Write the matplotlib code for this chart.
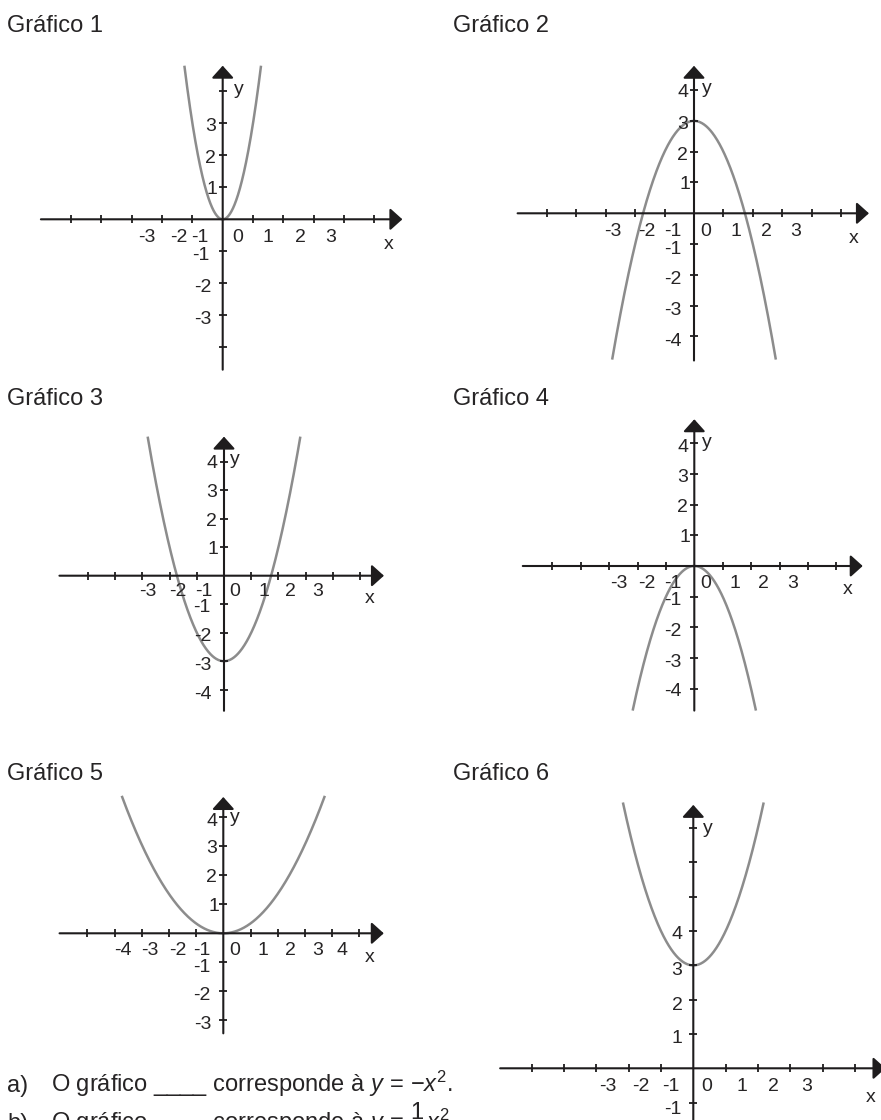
import numpy as np
import matplotlib
matplotlib.use('Agg')
import matplotlib.pyplot as plt
import matplotlib.transforms as mtransforms

plt.rcParams['font.family'] = ['Liberation Sans', 'DejaVu Sans']
plt.rcParams['mathtext.fontset'] = 'custom'
plt.rcParams['mathtext.rm'] = 'Liberation Sans'
plt.rcParams['mathtext.it'] = 'Liberation Sans:italic'

W, H = 881, 1120
AXIS = '#1e1c1d'
CURVE = '#8c8c8c'
TEXT = '#262425'

# parabolas y = a*x^2 + c, drawn up to the level where each curve stops
titles = ['Gráfico 1', 'Gráfico 2', 'Gráfico 3', 'Gráfico 4', 'Gráfico 5', 'Gráfico 6']
coef_a = [3, -1, 1, -1, 0.34, 1]
coef_c = [0, 3, -3, 0, 0, 3]
curve_end = [4.8, -4.75, 4.88, -4.71, 4.74, 7.75]

x_ticks = [[-5, -4, -3, -2, -1, 1, 2, 3, 4, 5]] * 6
y_ticks = [
    [-4, -3, -2, -1, 1, 2, 3, 4],
    [-4, -3, -2, -1, 1, 2, 3, 4],
    [-4, -3, -2, -1, 1, 2, 3, 4],
    [-4, -3, -2, -1, 1, 2, 3, 4],
    [-3, -2, -1, 1, 2, 3, 4],
    [-4, -3, -2, -1, 1, 2, 3, 4, 5, 6, 7],
]
x_labels = [
    ['-3', '-2', '-1', '0', '1', '2', '3'],
    ['-3', '-2', '-1', '0', '1', '2', '3'],
    ['-3', '-2', '-1', '0', '1', '2', '3'],
    ['-3', '-2', '-1', '0', '1', '2', '3'],
    ['-4', '-3', '-2', '-1', '0', '1', '2', '3', '4'],
    ['-3', '-2', '-1', '0', '1', '2', '3'],
]
y_labels = [
    ['3', '2', '1', '-1', '-2', '-3'],
    ['4', '3', '2', '1', '-1', '-2', '-3', '-4'],
    ['4', '3', '2', '1', '-1', '-2', '-3', '-4'],
    ['4', '3', '2', '1', '-1', '-2', '-3', '-4'],
    ['4', '3', '2', '1', '-1', '-2', '-3'],
    ['4', '3', '2', '1', '-1'],
]

# page layout: origin in pixels, pixels per unit, axis extents, label spots
layout = [
    dict(title=(7, 31.5), origin=(222.7, 219.3), s=(30.3, 32.0), xr=(-6.0, 5.93), yr=(-4.7, 4.8),
         xl=[-2.5, -1.44, -0.75, 0.49, 1.5, 2.55, 3.57], xly=-0.49,
         ylx=[-0.4, -0.4, -0.35, -0.71, -0.67, -0.67], yly=[2.98, 1.98, 1.02, -1.06, -2.04, -3.06],
         xname=(5.48, -0.70), yname=(0.53, 4.12)),
    dict(title=(452.7, 31.5), origin=(694.0, 213.3), s=(29.4, 30.8), xr=(-6.0, 5.95), yr=(-4.78, 4.79),
         xl=[-2.75, -1.59, -0.71, 0.40, 1.43, 2.47, 3.47], xly=-0.52,
         ylx=[-0.39, -0.39, -0.39, -0.32, -0.71, -0.71, -0.71, -0.71],
         yly=[4.0, 2.96, 1.97, 1.03, -1.10, -2.07, -3.08, -4.09],
         xname=(5.44, -0.74), yname=(0.43, 4.13)),
    dict(title=(7, 405), origin=(224.0, 575.7), s=(27.2, 28.5), xr=(-6.05, 5.88), yr=(-4.74, 4.88),
         xl=[-2.81, -1.68, -0.76, 0.40, 1.45, 2.43, 3.44], xly=-0.47,
         ylx=[-0.45, -0.45, -0.45, -0.39, -0.82, -0.78, -0.78, -0.76],
         yly=[4.04, 3.0, 2.0, 1.0, -1.03, -2.06, -3.08, -4.07],
         xname=(5.37, -0.71), yname=(0.40, 4.15)),
    dict(title=(452.7, 405), origin=(694.3, 566.0), s=(28.4, 30.7), xr=(-6.04, 5.93), yr=(-4.71, 4.78),
         xl=[-2.67, -1.68, -0.74, 0.40, 1.43, 2.42, 3.46], xly=-0.48,
         ylx=[-0.41, -0.41, -0.41, -0.33, -0.74, -0.74, -0.74, -0.74],
         yly=[3.94, 2.96, 1.98, 1.0, -1.05, -2.06, -3.06, -4.01],
         xname=(5.39, -0.69), yname=(0.44, 4.10)),
    dict(title=(7, 780), origin=(223.3, 933.3), s=(27.2, 29.0), xr=(-6.02, 5.9), yr=(-3.45, 4.7),
         xl=[-3.70, -2.69, -1.68, -0.79, 0.43, 1.45, 2.45, 3.47, 4.38], xly=-0.50,
         ylx=[-0.43, -0.43, -0.43, -0.35, -0.79, -0.79, -0.77],
         yly=[3.93, 3.0, 2.0, 1.0, -1.08, -2.05, -3.05],
         xname=(5.39, -0.75), yname=(0.43, 4.08)),
    dict(title=(452.7, 780), origin=(693.3, 1068.3), s=(32.3, 34.3), xr=(-5.98, 5.95), yr=(-4.7, 7.68),
         xl=[-2.65, -1.62, -0.69, 0.41, 1.5, 2.48, 3.51], xly=-0.46,
         ylx=[-0.5, -0.5, -0.5, -0.5, -0.62], yly=[3.96, 2.92, 1.91, 0.94, -1.12],
         xname=(5.48, -0.78), yname=(0.46, 7.06)),
]

fig = plt.figure(figsize=(W / 100, H / 100), dpi=100)


def px(x, y):
    return x / W, 1 - y / H


def make_axes(origin, s, xr, yr):
    ox, oy = origin
    sx, sy = s
    lo_x, hi_x = xr[0] - 1, xr[1] + 1
    lo_y, hi_y = yr[0] - 1.5, yr[1] + 1.5
    left, right = ox + lo_x * sx, ox + hi_x * sx
    top, bottom = oy - hi_y * sy, oy - lo_y * sy
    ax = fig.add_axes([left / W, 1 - bottom / H, (right - left) / W, (bottom - top) / H])
    ax.set_xlim(lo_x, hi_x)
    ax.set_ylim(lo_y, hi_y)
    ax.axis('off')
    ax.patch.set_visible(False)
    return ax


arrow = dict(arrowstyle='-|>,head_length=0.5,head_width=0.45', mutation_scale=15,
             lw=1.5, color=AXIS, shrinkA=0, shrinkB=0)
label_kw = dict(fontsize=14, color=TEXT, ha='center', va='baseline')

for i, L in enumerate(layout):
    fig.text(*px(*L['title']), titles[i], fontsize=17, color=TEXT, va='baseline')
    ax = make_axes(L['origin'], L['s'], L['xr'], L['yr'])
    # baseline sits half a digit height below the label centre
    lab = mtransforms.offset_copy(ax.transData, fig, x=0, y=-7.0, units='dots')

    # axes with arrow heads
    ax.annotate('', xy=(L['xr'][1], 0), xytext=(L['xr'][0], 0), arrowprops=arrow)
    ax.annotate('', xy=(0, L['yr'][1]), xytext=(0, L['yr'][0]), arrowprops=arrow)
    ax.plot(x_ticks[i], np.zeros(len(x_ticks[i])), ls='none', marker='|', ms=6, mew=1.3, color=AXIS)
    ax.plot(np.zeros(len(y_ticks[i])), y_ticks[i], ls='none', marker='_', ms=6, mew=1.3, color=AXIS)

    # the parabola
    a, c = coef_a[i], coef_c[i]
    x_end = np.sqrt((curve_end[i] - c) / a)
    xs = np.linspace(-x_end, x_end, 400)
    ax.plot(xs, a * xs ** 2 + c, color=CURVE, lw=1.8, solid_capstyle='butt', zorder=1)

    for t, xv in zip(x_labels[i], L['xl']):
        ax.text(xv, L['xly'], t, transform=lab, **label_kw)
    for t, xv, yv in zip(y_labels[i], L['ylx'], L['yly']):
        ax.text(xv, yv, t, transform=lab, **label_kw)
    ax.text(*L['xname'], 'x', transform=lab, **label_kw)
    ax.text(*L['yname'], 'y', transform=lab, **label_kw)

# questions below the graphs (the second line runs past the page edge)
fig.text(*px(7, 1091.7), 'a)', fontsize=17, color=TEXT, va='baseline')
fig.text(*px(50.7, 1091.7), r'O gráfico ____ corresponde à $y\,=\,{-}x^2$.', fontsize=17, color=TEXT,
         va='baseline')
fig.text(*px(7, 1130), 'b)', fontsize=17, color=TEXT, va='baseline')
fig.text(*px(50.7, 1130), r'O gráfico ____ corresponde à $y\,=\,\dfrac{1}{2}x^2$.', fontsize=17,
         color=TEXT, va='baseline')

fig.savefig('out.png', dpi=100, facecolor='white')
